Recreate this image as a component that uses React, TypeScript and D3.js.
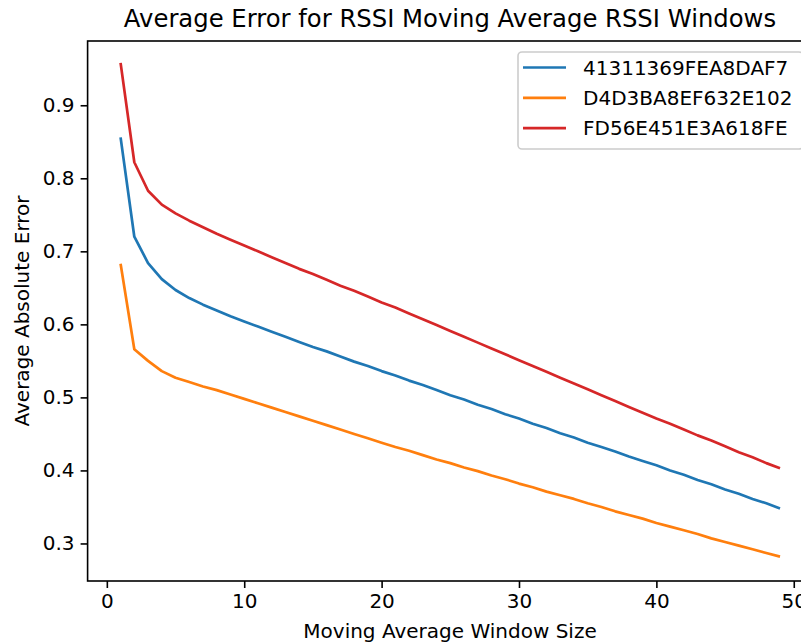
import React from "react";
import * as d3 from "d3";

// window sizes on the x axis
const windowSizes = d3.range(1, 50);

// average absolute error per device
const errA = [0.856, 0.720, 0.684, 0.662, 0.647, 0.636, 0.627, 0.619, 0.611, 0.604,
  0.597, 0.590, 0.583, 0.576, 0.569, 0.563, 0.556, 0.549, 0.543, 0.536,
  0.530, 0.523, 0.517, 0.510, 0.503, 0.497, 0.490, 0.484, 0.477, 0.471,
  0.464, 0.458, 0.451, 0.445, 0.438, 0.432, 0.426, 0.419, 0.413, 0.407,
  0.400, 0.394, 0.387, 0.381, 0.374, 0.368, 0.361, 0.355, 0.348];
const errB = [0.683, 0.566, 0.550, 0.536, 0.527, 0.521, 0.515, 0.510, 0.504, 0.498,
  0.492, 0.486, 0.480, 0.474, 0.468, 0.462, 0.456, 0.450, 0.444, 0.438,
  0.432, 0.427, 0.421, 0.415, 0.410, 0.404, 0.399, 0.393, 0.388, 0.382,
  0.377, 0.371, 0.366, 0.361, 0.355, 0.350, 0.344, 0.339, 0.334, 0.328,
  0.323, 0.318, 0.313, 0.307, 0.302, 0.297, 0.292, 0.287, 0.282];
const errC = [0.958, 0.822, 0.783, 0.764, 0.752, 0.742, 0.733, 0.724, 0.716, 0.708,
  0.700, 0.692, 0.684, 0.676, 0.669, 0.661, 0.653, 0.646, 0.638, 0.630,
  0.623, 0.615, 0.607, 0.599, 0.591, 0.583, 0.575, 0.567, 0.559, 0.551,
  0.543, 0.535, 0.527, 0.519, 0.511, 0.503, 0.495, 0.487, 0.479, 0.471,
  0.464, 0.456, 0.448, 0.441, 0.433, 0.425, 0.418, 0.410, 0.403];

const deviceNames = ["41311369FEA8DAF7", "D4D3BA8EF632E102", "FD56E451E3A618FE"];
const deviceColors = ["#1f77b4", "#ff7f0e", "#d62728"];
const xTicks = [0, 10, 20, 30, 40, 50];
const yTicks = [0.3, 0.4, 0.5, 0.6, 0.7, 0.8, 0.9];

const width = 801;
const height = 643;
const font = "DejaVu Sans, sans-serif";

export default function App() {
  const ref = React.useRef<SVGSVGElement>(null);

  React.useEffect(() => {
    const svg = d3.select(ref.current);
    svg.selectAll("*").remove();

    const series = [errA, errB, errC];
    // axes run past the right edge of the picture, as in the original crop
    const x = d3.scaleLinear([-1.4, 51.4], [87.6, 813]);
    const y = d3.scaleLinear([0.2486, 0.988], [581, 41]);

    svg.append("rect").attr("width", width).attr("height", height).attr("fill", "white");

    // lines
    const line = d3.line<number>()
      .x((_, i) => x(windowSizes[i]))
      .y(d => y(d));
    svg.append("g")
      .selectAll("path")
      .data(series)
      .join("path")
        .attr("d", d => line(d))
        .attr("fill", "none")
        .attr("stroke", (_, i) => deviceColors[i])
        .attr("stroke-width", 2.7)
        .attr("stroke-linejoin", "round");

    // frame
    svg.append("rect")
      .attr("x", x.range()[0]).attr("y", y.range()[1])
      .attr("width", x.range()[1] - x.range()[0])
      .attr("height", y.range()[0] - y.range()[1])
      .attr("fill", "none").attr("stroke", "black").attr("stroke-width", 1.6);

    const yAxis = d3.axisLeft(y).tickValues(yTicks).tickFormat(d3.format(".1f")).tickSize(7).tickPadding(6);
    svg.append("g")
      .attr("transform", `translate(${x.range()[0]},0)`)
      .call(yAxis)
      .call(g => g.select(".domain").remove())
      .call(g => g.selectAll("line").attr("stroke-width", 1.6))
      .call(g => g.selectAll("text").attr("font-family", font).attr("font-size", 20).attr("fill", "#000"));

    const xAxis = d3.axisBottom(x).tickValues(xTicks).tickSize(7).tickPadding(6);
    svg.append("g")
      .attr("transform", `translate(0,${y.range()[0]})`)
      .call(xAxis)
      .call(g => g.select(".domain").remove())
      .call(g => g.selectAll("line").attr("stroke-width", 1.6))
      .call(g => g.selectAll("text").attr("font-family", font).attr("font-size", 20).attr("fill", "#000"));

    // labels
    svg.append("text")
      .attr("x", 450).attr("y", 27)
      .attr("text-anchor", "middle")
      .attr("font-family", font).attr("font-size", 24.3)
      .text("Average Error for RSSI Moving Average RSSI Windows");
    svg.append("text")
      .attr("x", 450).attr("y", 638)
      .attr("text-anchor", "middle")
      .attr("font-family", font).attr("font-size", 20)
      .text("Moving Average Window Size");
    svg.append("text")
      .attr("transform", `translate(29,311) rotate(-90)`)
      .attr("text-anchor", "middle")
      .attr("font-family", font).attr("font-size", 20)
      .text("Average Absolute Error");

    // legend
    const legend = svg.append("g");
    legend.append("rect")
      .attr("x", 518).attr("y", 52).attr("width", 285).attr("height", 97)
      .attr("rx", 4)
      .attr("fill", "white").attr("fill-opacity", 0.8)
      .attr("stroke", "#cccccc").attr("stroke-width", 1.6);
    const item = legend.selectAll("g.item")
      .data(deviceNames)
      .join("g")
        .attr("class", "item")
        .attr("transform", (_, i) => `translate(0,${67.5 + i * 30.3})`);
    item.append("line")
      .attr("x1", 523).attr("x2", 566)
      .attr("stroke", (_, i) => deviceColors[i]).attr("stroke-width", 2.7);
    item.append("text")
      .attr("x", 583).attr("y", 7)
      .attr("font-family", font).attr("font-size", 20)
      .text(d => d);
  }, []);

  return (
    <svg ref={ref} width={width} height={height}
      style={{ position: "absolute", left: 0, top: 0 }} />
  );
}
